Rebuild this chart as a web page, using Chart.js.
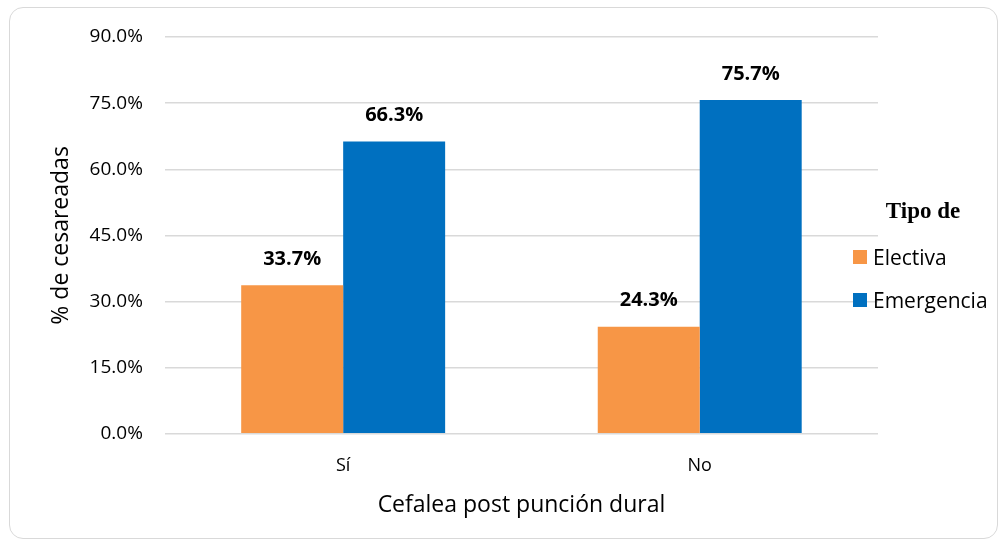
<!DOCTYPE html>
<html>
<head>
<meta charset="utf-8">
<script src="https://cdn.jsdelivr.net/npm/chart.js@4/dist/chart.umd.min.js"></script>
<style>
  body { margin: 0; background: #fff; font-family: "Open Sans"; }
  #wrap { position: absolute; left: 9px; top: 7px; width: 989px; height: 532px;
          border: 1.5px solid #d9d9d9; border-radius: 14px; box-sizing: border-box; }
  #c { position: absolute; left: 0; top: 0; }
  #legend { position: absolute; left: 853px; top: 198px; width: 150px; }
  #legend .title { font-family: "Liberation Serif"; font-weight: bold; font-size: 23px;
                   width: 140px; text-align: center; margin-bottom: 21px; }
  #legend .item { height: 43px; font-size: 21px; display: flex; align-items: flex-start; line-height: 24px; }
  #legend .box { width: 14px; height: 14px; margin: 5px 6px 0 0; }
</style>
</head>
<body>
<div id="wrap"></div>
<canvas id="c" width="1005" height="547"></canvas>
<div id="legend"></div>
<script>
// chart data
let categories = ["Sí", "No"];
let electiva = [33.7, 24.3];
let emergencia = [66.3, 75.7];
let seriesNames = ["Electiva", "Emergencia"];
let barColors = ["#f79646", "#0070c0"];
let legendTitle = "Tipo de";

// legend (html)
let legend = document.getElementById('legend');
let html = '<div class="title">' + legendTitle + '</div>';
for (let i = 0; i < seriesNames.length; i++) {
    html += '<div class="item"><div class="box" style="background:' + barColors[i] + '"></div>' + seriesNames[i] + '</div>';
}
legend.innerHTML = html;

// draws the value on top of each bar
const valueLabels = {
    id: 'valueLabels',
    afterDatasetsDraw(chart) {
        let ctx = chart.ctx;
        ctx.save();
        ctx.font = 'bold 20px "Open Sans"';
        ctx.fillStyle = '#000';
        ctx.textAlign = 'center';
        ctx.textBaseline = 'middle';
        chart.data.datasets.forEach((ds, i) => {
            chart.getDatasetMeta(i).data.forEach((bar, j) => {
                ctx.fillText(ds.data[j].toFixed(1) + '%', bar.x, bar.y - 26);
            });
        });
        ctx.restore();
    }
};

Chart.defaults.font.family = '"Open Sans"';
Chart.defaults.color = '#000';

let myChart = new Chart(document.getElementById('c'), {
    type: 'bar',
    data: {
        labels: categories,
        datasets: [
            { label: seriesNames[0], data: electiva, backgroundColor: barColors[0] },
            { label: seriesNames[1], data: emergencia, backgroundColor: barColors[1] }
        ]
    },
    options: {
        responsive: false,
        animation: false,
        layout: { padding: { left: 44, top: 37, right: 127, bottom: 28 } },
        datasets: { bar: { categoryPercentage: 0.572, barPercentage: 1 } },
        plugins: {
            tooltip: { enabled: false },
            legend: { display: false }
        },
        scales: {
            y: {
                min: 0,
                max: 90,
                ticks: {
                    stepSize: 15,
                    padding: 22,
                    font: { size: 19 },
                    callback: v => v.toFixed(1) + '%'
                },
                grid: { color: '#d9d9d9', lineWidth: 1.5, drawTicks: false },
                border: { display: false },
                title: { display: true, text: '% de cesareadas', font: { size: 23 }, padding: { top: 4, bottom: -8 } }
            },
            x: {
                ticks: { font: { size: 18 }, padding: 21 },
                grid: { display: false, drawTicks: false },
                border: { display: false },
                title: { display: true, text: 'Cefalea post punción dural', font: { size: 23 }, padding: { top: -6, bottom: 0 } }
            }
        }
    },
    plugins: [valueLabels]
});
</script>
</body>
</html>
